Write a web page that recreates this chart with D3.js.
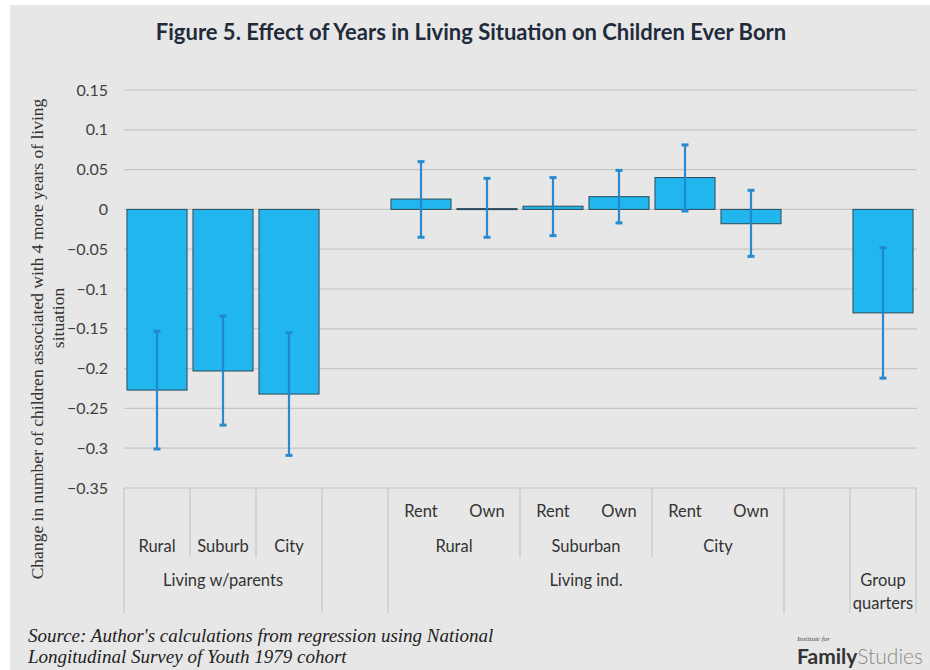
<!DOCTYPE html>
<html>
<head>
<meta charset="utf-8">
<script src="https://cdn.jsdelivr.net/npm/d3@7"></script>
<style>
  html, body { margin: 0; padding: 0; background: #ffffff; }
  svg { display: block; }
</style>
</head>
<body>
<svg id="chart" width="930" height="670"></svg>
<script>
// ---------- DATA ----------
const slotIds      = ["p-rural", "p-suburb", "p-city", "gap1", "i-rural-rent", "i-rural-own", "i-sub-rent", "i-sub-own", "i-city-rent", "i-city-own", "gap2", "group"];
const values       = [-0.227, -0.203, -0.232, null, 0.013, 0.001, 0.004, 0.016, 0.040, -0.018, null, -0.130];
const errLow       = [-0.301, -0.271, -0.309, null, -0.035, -0.035, -0.033, -0.017, -0.002, -0.059, null, -0.212];
const errHigh      = [-0.153, -0.134, -0.155, null, 0.060, 0.039, 0.040, 0.049, 0.081, 0.024, null, -0.048];
const tenureLabels = ["", "", "", "", "Rent", "Own", "Rent", "Own", "Rent", "Own", "", ""];
const areaGroups   = [
  { label: "Rural",    from: 0, to: 0 },
  { label: "Suburb",   from: 1, to: 1 },
  { label: "City",     from: 2, to: 2 },
  { label: "Rural",    from: 4, to: 5 },
  { label: "Suburban", from: 6, to: 7 },
  { label: "City",     from: 8, to: 9 }
];
const topGroups    = [
  { label: ["Living w/parents"], from: 0, to: 2 },
  { label: ["Living ind."],      from: 4, to: 9 },
  { label: ["Group", "quarters"], from: 11, to: 11 }
];
const fullDividers  = [0, 3, 4, 10, 11, 12];   // slot boundaries with long lines
const shortDividers = [1, 2, 6, 8];            // slot boundaries with short lines
const yTicks = [0.15, 0.1, 0.05, 0, -0.05, -0.1, -0.15, -0.2, -0.25, -0.3, -0.35];
const titleText = "Figure 5. Effect of Years in Living Situation on Children Ever Born";
const yTitleLines = ["Change in number of children associated with 4 more years of living", "situation"];
const sourceLines = ["Source: Author's calculations from regression using National", "Longitudinal Survey of Youth 1979 cohort"];

// ---------- LAYOUT ----------
const svg = d3.select("#chart");
const sans = "Lato, 'Open Sans', sans-serif";
const serif = "'Liberation Serif', 'DejaVu Serif', serif";

svg.append("rect").attr("x", 10).attr("y", 5).attr("width", 920).attr("height", 665).attr("fill", "#e7e7e7");

const plotLeft = 124, plotRight = 916, plotTop = 90, plotBottom = 488;

const y = d3.scaleLinear().domain([-0.35, 0.15]).range([plotBottom, plotTop]);
const x = d3.scaleBand().domain(d3.range(slotIds.length)).range([plotLeft, plotRight]).paddingInner(0.09).paddingOuter(0.045);
const slotW = (plotRight - plotLeft) / slotIds.length;
const boundary = i => plotLeft + i * slotW;

// Title
svg.append("text")
  .attr("x", 471).attr("y", 40)
  .attr("text-anchor", "middle")
  .attr("font-family", sans).attr("font-weight", "bold").attr("font-size", 22)
  .attr("fill", "#1f2b3a")
  .text(titleText);

// Gridlines
svg.append("g")
  .selectAll("line").data(yTicks).join("line")
  .attr("x1", plotLeft).attr("x2", plotRight + 1)
  .attr("y1", d => y(d)).attr("y2", d => y(d))
  .attr("stroke", "#c6c6c6").attr("stroke-width", 1.2);

// Y axis labels
const yAxis = d3.axisLeft(y).tickValues(yTicks).tickSize(0).tickPadding(0).tickFormat(d => d3.format("")(+d.toFixed(2)));
const yG = svg.append("g").attr("transform", `translate(${plotLeft - 16},0)`).call(yAxis);
yG.select(".domain").remove();
yG.selectAll("text")
  .attr("font-family", sans).attr("font-size", 16).attr("fill", "#404040");

// Y title
svg.append("text")
  .attr("transform", "translate(43,339) rotate(-90)")
  .attr("text-anchor", "middle")
  .attr("font-family", serif).attr("font-size", 17.5).attr("fill", "#333")
  .text(yTitleLines[0]);
svg.append("text")
  .attr("transform", "translate(64,318) rotate(-90)")
  .attr("text-anchor", "middle")
  .attr("font-family", serif).attr("font-size", 17.5).attr("fill", "#333")
  .text(yTitleLines[1]);

// Bars
const barData = values.map((v, i) => ({ i, v, lo: errLow[i], hi: errHigh[i] })).filter(d => d.v !== null);
svg.append("g")
  .selectAll("rect").data(barData).join("rect")
  .attr("x", d => x(d.i))
  .attr("width", x.bandwidth())
  .attr("y", d => y(Math.max(0, d.v)))
  .attr("height", d => Math.max(1, Math.abs(y(d.v) - y(0))))
  .attr("fill", "#21b6ee")
  .attr("stroke", "#2d4a58").attr("stroke-width", 1);

// Error bars
const eg = svg.append("g").attr("stroke", "#1f86cf").attr("stroke-width", 2.2).attr("opacity", 0.95);
const cx = d => x(d.i) + x.bandwidth() / 2;
eg.selectAll("line.v").data(barData).join("line").attr("class", "v")
  .attr("x1", cx).attr("x2", cx).attr("y1", d => y(d.hi)).attr("y2", d => y(d.lo));
eg.selectAll("line.t").data(barData).join("line").attr("class", "t")
  .attr("x1", d => cx(d) - 3.5).attr("x2", d => cx(d) + 3.5).attr("y1", d => y(d.hi)).attr("y2", d => y(d.hi)).attr("stroke-width", 3);
eg.selectAll("line.b").data(barData).join("line").attr("class", "b")
  .attr("x1", d => cx(d) - 3.5).attr("x2", d => cx(d) + 3.5).attr("y1", d => y(d.lo)).attr("y2", d => y(d.lo)).attr("stroke-width", 3);

// Category axis dividers
const dg = svg.append("g").attr("stroke", "#c6c6c6").attr("stroke-width", 1.2);
dg.selectAll("line.full").data(fullDividers).join("line").attr("class", "full")
  .attr("x1", d => boundary(d)).attr("x2", d => boundary(d)).attr("y1", plotBottom).attr("y2", 613);
dg.selectAll("line.short").data(shortDividers).join("line").attr("class", "short")
  .attr("x1", d => boundary(d)).attr("x2", d => boundary(d)).attr("y1", plotBottom).attr("y2", 557);

// Category labels
const lbl = svg.append("g").attr("font-family", sans).attr("font-size", 16.5).attr("fill", "#333").attr("text-anchor", "middle");
lbl.selectAll("text.ten").data(tenureLabels.map((t, i) => ({ t, i })).filter(d => d.t)).join("text").attr("class", "ten")
  .attr("x", d => x(d.i) + x.bandwidth() / 2).attr("y", 517).text(d => d.t);
lbl.selectAll("text.area").data(areaGroups).join("text").attr("class", "area")
  .attr("x", d => (boundary(d.from) + boundary(d.to + 1)) / 2).attr("y", 552).text(d => d.label);
topGroups.forEach(g => {
  g.label.forEach((line, k) => {
    lbl.append("text")
      .attr("x", (boundary(g.from) + boundary(g.to + 1)) / 2)
      .attr("y", 586 + k * 23)
      .text(line);
  });
});

// Source
sourceLines.forEach((s, k) => {
  svg.append("text")
    .attr("x", 28).attr("y", 642 + k * 21)
    .attr("font-family", serif).attr("font-style", "italic").attr("font-size", 19).attr("fill", "#222")
    .text(s);
});

// Logo
svg.append("text").attr("x", 797).attr("y", 641)
  .attr("font-family", serif).attr("font-style", "italic").attr("font-size", 7).attr("fill", "#444")
  .text("Institute for");
const logo = svg.append("text").attr("x", 797).attr("y", 664).attr("font-family", sans).attr("font-size", 21);
logo.append("tspan").attr("font-weight", "bold").attr("fill", "#333").text("Family");
logo.append("tspan").attr("font-weight", 300).attr("fill", "#8a8a8a").text("Studies");
</script>
</body>
</html>
